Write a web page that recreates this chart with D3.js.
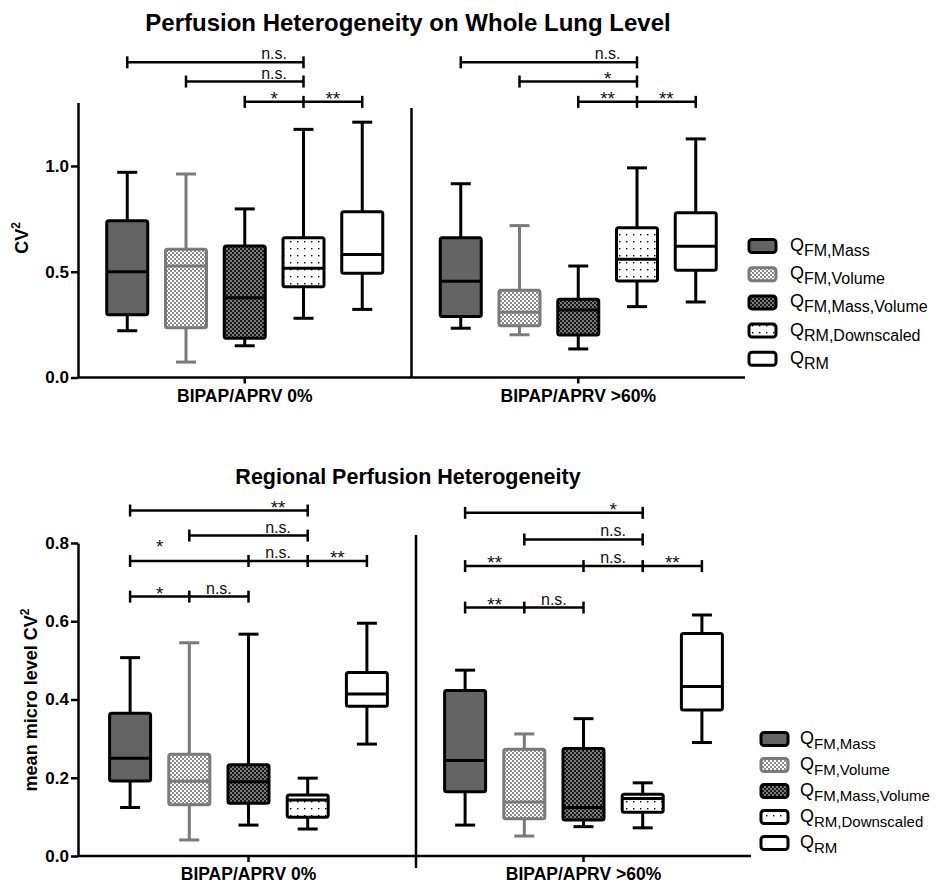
<!DOCTYPE html>
<html>
<head>
<meta charset="utf-8">
<script src="https://cdn.jsdelivr.net/npm/d3@7"></script>
<style>
  body { margin: 0; background: #fff; }
  svg { display: block; font-family: "Liberation Sans", Arial, sans-serif; }
</style>
</head>
<body>
<svg id="chart" width="938" height="884"></svg>
<script>
// ---- data -------------------------------------------------------------
const seriesKeys = ["FM,Mass", "FM,Volume", "FM,Mass,Volume", "RM,Downscaled", "RM"];
const groupLabels = ["BIPAP/APRV 0%", "BIPAP/APRV >60%"];

// five-number summaries per series: [min, q1, median, q3, max]
const wholeLung0 = [
  [0.221, 0.297, 0.500, 0.741, 0.970],
  [0.073, 0.235, 0.527, 0.606, 0.962],
  [0.150, 0.185, 0.377, 0.622, 0.797],
  [0.280, 0.429, 0.516, 0.661, 1.173],
  [0.322, 0.493, 0.581, 0.784, 1.207]
];
const wholeLung60 = [
  [0.233, 0.288, 0.455, 0.661, 0.916],
  [0.202, 0.245, 0.308, 0.412, 0.718],
  [0.135, 0.201, 0.319, 0.370, 0.527],
  [0.335, 0.456, 0.559, 0.708, 0.991],
  [0.357, 0.507, 0.620, 0.779, 1.128]
];
const regional0 = [
  [0.124, 0.192, 0.250, 0.365, 0.507],
  [0.041, 0.131, 0.191, 0.260, 0.545],
  [0.079, 0.135, 0.190, 0.233, 0.567],
  [0.069, 0.099, 0.143, 0.156, 0.199],
  [0.286, 0.383, 0.414, 0.469, 0.595]
];
const regional60 = [
  [0.079, 0.164, 0.244, 0.423, 0.475],
  [0.051, 0.095, 0.138, 0.273, 0.312],
  [0.075, 0.092, 0.124, 0.275, 0.351],
  [0.072, 0.112, 0.147, 0.158, 0.187],
  [0.290, 0.373, 0.433, 0.569, 0.616]
];

// significance brackets: level (in y units), series indices joined,
// labels [text, series position, raised]
const wholeLungBrackets = [
  { group: 0, level: 1.490, caps: [0, 3], labels: [["n.s.", 2.5]] },
  { group: 0, level: 1.399, caps: [1, 3], labels: [["n.s.", 2.5]] },
  { group: 0, level: 1.303, caps: [2, 3, 4], labels: [["*", 2.5], ["**", 3.5]] },
  { group: 1, level: 1.490, caps: [0, 3], labels: [["n.s.", 2.5]] },
  { group: 1, level: 1.399, caps: [1, 3], labels: [["*", 2.5]] },
  { group: 1, level: 1.303, caps: [2, 3, 4], labels: [["**", 2.5], ["**", 3.5]] }
];
const regionalBrackets = [
  { group: 0, level: 0.883, caps: [0, 3], labels: [["**", 2.5]] },
  { group: 0, level: 0.819, caps: [1, 3], labels: [["n.s.", 2.5]] },
  { group: 0, level: 0.754, caps: [0, 2, 3, 4], labels: [["*", 0.5, true], ["n.s.", 2.5], ["**", 3.5]] },
  { group: 0, level: 0.663, caps: [0, 1, 2], labels: [["*", 0.5], ["n.s.", 1.5]] },
  { group: 1, level: 0.877, caps: [0, 3], labels: [["*", 2.5]] },
  { group: 1, level: 0.809, caps: [1, 3], labels: [["n.s.", 2.5]] },
  { group: 1, level: 0.741, caps: [0, 2, 3, 4], labels: [["**", 0.5], ["n.s.", 2.5], ["**", 3.5]] },
  { group: 1, level: 0.635, caps: [0, 1, 2], labels: [["**", 0.5], ["n.s.", 1.5]] }
];

// ---- styles -----------------------------------------------------------
const seriesFill = ["#646464", "url(#chkLight)", "url(#chkDark)", "url(#dots)", "#ffffff"];
const seriesStroke = ["#000", "#7a7a7a", "#000", "#000", "#000"];
const FONT = "Liberation Sans, Arial, sans-serif";

const svg = d3.select("#chart");
const defs = svg.append("defs");

function checker(id, a, b) {
  const p = defs.append("pattern").attr("id", id).attr("patternUnits", "userSpaceOnUse")
    .attr("width", 4).attr("height", 4);
  p.append("rect").attr("width", 4).attr("height", 4).attr("fill", a);
  p.append("rect").attr("width", 2).attr("height", 2).attr("fill", b);
  p.append("rect").attr("x", 2).attr("y", 2).attr("width", 2).attr("height", 2).attr("fill", b);
}
checker("chkLight", "#ffffff", "#8c8c8c");
checker("chkDark", "#7a7a7a", "#1a1a1a");
{
  const p = defs.append("pattern").attr("id", "dots").attr("patternUnits", "userSpaceOnUse")
    .attr("width", 7).attr("height", 7);
  p.append("rect").attr("width", 7).attr("height", 7).attr("fill", "#fff");
  p.append("rect").attr("x", 3).attr("y", 3).attr("width", 1.4).attr("height", 1.4).attr("fill", "#000");
}

// ---- panel drawing ----------------------------------------------------
function drawPanel(cfg) {
  const g = svg.append("g");
  const y = d3.scaleLinear().domain([0, cfg.yMax]).range(cfg.yRange);
  const xGroup = d3.scaleBand().domain(groupLabels).range(cfg.xRange).paddingInner(0).paddingOuter(0);
  const cx = (gi, i) => xGroup(groupLabels[gi]) + xGroup.bandwidth() / 2 + (i - 2) * cfg.step;
  const axisX = cfg.xRange[0] - (cfg.yAxisX0 || 0);

  // title
  g.append("text").attr("x", cfg.titleX).attr("y", cfg.titleY).attr("text-anchor", "middle")
    .attr("font-size", cfg.titleSize).attr("font-weight", "bold").text(cfg.title);

  // y axis
  const yAxis = g.append("g").attr("transform", `translate(${axisX},0)`)
    .call(d3.axisLeft(y).tickValues(cfg.ticks).tickFormat(d3.format(".1f")).tickSize(7).tickSizeOuter(0));
  yAxis.select(".domain").attr("stroke-width", 2.5);
  yAxis.selectAll(".tick line").attr("stroke-width", 2.5);
  yAxis.selectAll(".tick text").attr("font-size", 17).attr("font-weight", "bold")
    .attr("font-family", FONT).attr("fill", "#000").attr("x", -9);

  // x axis
  const xAxis = g.append("g").attr("transform", `translate(0,${y(0)})`)
    .call(d3.axisBottom(xGroup).tickSize(6).tickSizeOuter(0));
  xAxis.select(".domain").attr("stroke-width", 2.5).attr("d", `M${axisX},0H${cfg.xRange[1]}`);
  xAxis.selectAll(".tick line").attr("stroke-width", 2.5);
  xAxis.selectAll(".tick text").attr("font-size", 17.5).attr("font-weight", "bold")
    .attr("font-family", FONT).attr("fill", "#000").attr("y", 12);

  // divider between the two groups
  const divX = xGroup(groupLabels[1]);
  g.append("line").attr("x1", divX).attr("x2", divX)
    .attr("y1", cfg.divider[0]).attr("y2", cfg.divider[1])
    .attr("stroke", "#000").attr("stroke-width", 2.5);

  // y label
  const yl = g.append("text")
    .attr("transform", `translate(${cfg.yLabelX},${cfg.yLabelY}) rotate(-90)`)
    .attr("text-anchor", "middle").attr("font-size", 18).attr("font-weight", "bold");
  yl.append("tspan").text(cfg.yLabel);
  yl.append("tspan").attr("font-size", 12).attr("dy", -8).text("2");

  // boxes
  const half = cfg.boxW / 2, capHalf = 10;
  cfg.data.forEach((groupData, gi) => {
    groupData.forEach((s, i) => {
      const [mn, q1, md, q3, mx] = s;
      const x0 = cx(gi, i);
      const bg = g.append("g").attr("stroke", seriesStroke[i]).attr("stroke-width", 3).attr("fill", "none");
      bg.append("line").attr("x1", x0).attr("x2", x0).attr("y1", y(mx)).attr("y2", y(q3));
      bg.append("line").attr("x1", x0).attr("x2", x0).attr("y1", y(q1)).attr("y2", y(mn));
      bg.append("line").attr("x1", x0 - capHalf).attr("x2", x0 + capHalf).attr("y1", y(mx)).attr("y2", y(mx));
      bg.append("line").attr("x1", x0 - capHalf).attr("x2", x0 + capHalf).attr("y1", y(mn)).attr("y2", y(mn));
      bg.append("rect").attr("x", x0 - half).attr("width", cfg.boxW)
        .attr("y", y(q3)).attr("height", y(q1) - y(q3)).attr("rx", 2)
        .attr("fill", seriesFill[i]);
      bg.append("line").attr("x1", x0 - half).attr("x2", x0 + half).attr("y1", y(md)).attr("y2", y(md));
    });
  });

  // significance brackets
  cfg.brackets.forEach(b => {
    const ly = y(b.level);
    const xs = b.caps.map(i => cx(b.group, i));
    const bg = g.append("g").attr("stroke", "#000").attr("stroke-width", 2.5);
    bg.append("line").attr("x1", xs[0]).attr("x2", xs[xs.length - 1]).attr("y1", ly).attr("y2", ly);
    xs.forEach(xc => bg.append("line").attr("x1", xc).attr("x2", xc).attr("y1", ly - 6).attr("y2", ly + 6));
    b.labels.forEach(([txt, at, raised]) => {
      const xt = cx(b.group, at);
      const isStar = txt.startsWith("*");
      g.append("text").attr("x", xt).attr("y", ly + (isStar ? 3 : -3) - (raised ? 11 : 0))
        .attr("text-anchor", "middle").attr("font-size", isStar ? 19 : 16).attr("fill", "#111").text(txt);
    });
  });

  // legend
  seriesKeys.forEach((k, i) => {
    const ly = cfg.legendY + i * cfg.legendStep;
    g.append("rect").attr("x", cfg.legendX).attr("y", ly - 6.5).attr("width", 27).attr("height", 13)
      .attr("rx", 3).attr("fill", seriesFill[i]).attr("stroke", seriesStroke[i]).attr("stroke-width", 3);
    const t = g.append("text").attr("x", cfg.legendX + cfg.legendGap).attr("y", ly + 5)
      .attr("font-size", 18).attr("fill", "#000");
    t.append("tspan").text("Q");
    t.append("tspan").attr("font-size", cfg.legendSub).attr("dy", 5).text(k);
  });
}

drawPanel({
  title: "Perfusion Heterogeneity on Whole Lung Level",
  titleX: 408, titleY: 31, titleSize: 24,
  yLabel: "CV", yLabelX: 28, yLabelY: 238,
  yMax: 1.3, yRange: [377.5, 102.5], ticks: [0, 0.5, 1.0],
  xRange: [78, 745], step: 58.75, boxW: 41,
  divider: [108, 377.5],
  data: [wholeLung0, wholeLung60],
  brackets: wholeLungBrackets,
  legendX: 749, legendY: 246, legendStep: 28.2, legendGap: 41, legendSub: 16
});

drawPanel({
  title: "Regional Perfusion Heterogeneity",
  titleX: 408, titleY: 484, titleSize: 21.5,
  yLabel: "mean micro level CV", yLabelX: 37, yLabelY: 700,
  yMax: 0.8, yRange: [856, 543], ticks: [0, 0.2, 0.4, 0.6, 0.8],
  xRange: [81, 751], yAxisX0: 3, step: 59.2, boxW: 41,
  divider: [535, 868],
  data: [regional0, regional60],
  brackets: regionalBrackets,
  legendX: 761, legendY: 739, legendStep: 26, legendGap: 39, legendSub: 15
});
</script>
</body>
</html>
